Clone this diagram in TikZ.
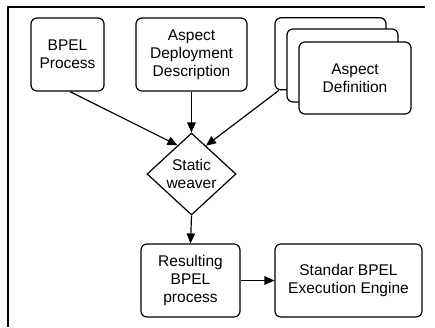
\documentclass[tikz,border=0pt]{standalone}
\usepackage{fontspec}
\setmainfont{Liberation Sans}
\usetikzlibrary{shapes.geometric,arrows.meta,calc}

\tikzset{
  txt/.style={font=\fontsize{15.5}{18}\selectfont, align=center, text=black},
  box/.style={txt, draw=black, line width=1.2pt, rounded corners=6pt, fill=white,
              inner sep=0pt},
  arr/.style={draw=black, line width=1.2pt, -{Triangle[length=10pt,width=8.5pt]}},
  frame/.style={draw=black, line width=1.2pt}
}

\begin{document}
\begin{tikzpicture}[x=1pt,y=-1pt]
  \useasboundingbox (0,0) rectangle (435,327);

  % outer frame (top and left edges)
  \draw[frame] (8,327) -- (8,7) -- (425,7);

  % inputs
  \node[box, minimum width=73pt, minimum height=73pt] (bpel) at (67.5,54.5) {BPEL\\Process};
  \node[box, minimum width=111pt, minimum height=73pt] (deploy) at (191.5,54.5) {Aspect\\Deployment\\Description};

  % stack of aspect definitions
  \node[box, minimum width=111pt, minimum height=72pt] (back) at (330.5,53.8) {};
  \node[box, minimum width=111pt, minimum height=73pt] (mid) at (342.5,65.5) {};
  \node[box, minimum width=112pt, minimum height=72pt] (front) at (355,78) {Aspect\\Definition};

  % weaver
  \node[diamond, draw=black, line width=1.2pt, fill=white, inner sep=0pt,
        minimum width=89pt, minimum height=82pt] (weave) at (191.5,174) {};
  \node[txt] (weavetxt) at (weave.center) {Static\\weaver};

  % outputs
  \node[box, minimum width=99pt, minimum height=73pt] (res) at (190.5,280.5) {Resulting\\BPEL\\process};
  \node[box, minimum width=147pt, minimum height=73pt] (std) at (348.5,280.5) {Standar BPEL\\Execution Engine};

  % connectors
  \draw[arr] ($(bpel.south)+(2.5,0)$) -- ($(weave.north)!0.31!(weave.west)$);
  \draw[arr] (deploy.south) -- (weave.north);
  \draw[arr] ($(back.south west)+(4.5,0)$) -- ($(weave.north)!0.32!(weave.east)$);
  \draw[arr] (weave.south) -- (res.north);
  \draw[arr] (res.east) -- (std.west);
\end{tikzpicture}
\end{document}
